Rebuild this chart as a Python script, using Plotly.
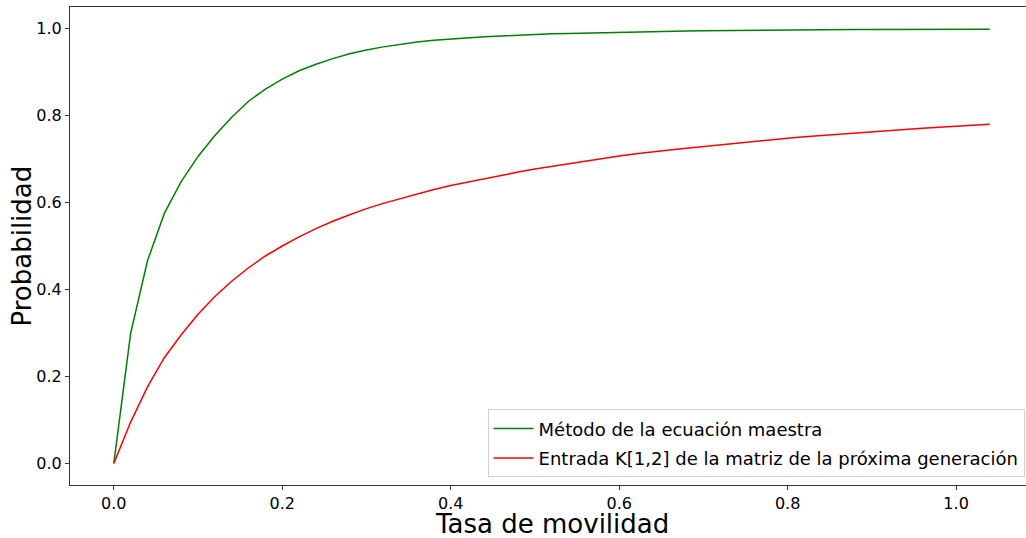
import plotly.graph_objects as go

x_vals = [round(i * 0.02, 2) for i in range(53)]

green_vals = [
    0.000, 0.299, 0.466, 0.575, 0.648, 0.706, 0.754, 0.796, 0.833, 0.861,
    0.884, 0.903, 0.918, 0.931, 0.942, 0.951, 0.958, 0.964, 0.969, 0.973,
    0.976, 0.979, 0.981, 0.983, 0.985, 0.987, 0.988, 0.989, 0.990, 0.991,
    0.992, 0.993, 0.9935, 0.994, 0.9945, 0.995, 0.9955, 0.996, 0.9963, 0.9966,
    0.9969, 0.9972, 0.9974, 0.9976, 0.9978, 0.998, 0.9982, 0.9983, 0.9984, 0.9985,
    0.9986, 0.9987, 0.9988,
]

red_vals = [
    0.000, 0.095, 0.176, 0.243, 0.296, 0.343, 0.384, 0.419, 0.450, 0.477,
    0.500, 0.521, 0.540, 0.557, 0.572, 0.586, 0.598, 0.609, 0.620, 0.630,
    0.639, 0.647, 0.655, 0.662, 0.670, 0.677, 0.683, 0.690, 0.696, 0.702,
    0.707, 0.712, 0.717, 0.721, 0.725, 0.729, 0.733, 0.737, 0.741, 0.744,
    0.748, 0.751, 0.754, 0.757, 0.760, 0.763, 0.766, 0.768, 0.771, 0.773,
    0.776, 0.778, 0.780,
]

x_ticks = [0.0, 0.2, 0.4, 0.6, 0.8, 1.0]
y_ticks = [0.0, 0.2, 0.4, 0.6, 0.8, 1.0]

x_title = "Tasa de movilidad"
y_title = "Probabilidad"

font_family = "DejaVu Sans"

fig = go.Figure()
fig.add_trace(go.Scatter(
    x=x_vals, y=green_vals, mode="lines",
    name="Método de la ecuación maestra", legendgroup="g1",
    line=dict(color="green", width=1.5),
))
fig.add_trace(go.Scatter(
    x=x_vals, y=red_vals, mode="lines",
    name="Entrada K[1,2] de la matriz de la próxima generación", legendgroup="g2",
    line=dict(color="red", width=1.5),
))

fig.update_layout(
    width=1026, height=538,
    margin=dict(l=70, r=0, t=7, b=53, autoexpand=False),
    paper_bgcolor="white", plot_bgcolor="white",
    font=dict(family=font_family, color="black"),
    showlegend=True,
    legend=dict(
        x=0.9985, y=0.016, xanchor="right", yanchor="bottom",
        bgcolor="white", bordercolor="#d0d0d0", borderwidth=1,
        font=dict(size=18, family=font_family),
        tracegroupgap=3, itemwidth=40, traceorder="grouped",
    ),
    xaxis=dict(
        range=[-0.052, 1.083], automargin=False,
        tickvals=x_ticks, ticktext=[f"{v:.1f}" for v in x_ticks],
        showgrid=False, zeroline=False,
        showline=True, linecolor="#333333", linewidth=1, mirror=True,
        ticks="outside", ticklen=4, tickcolor="#333333",
        tickfont=dict(size=16),
    ),
    yaxis=dict(
        range=[-0.0497, 1.0497], automargin=False,
        tickvals=y_ticks, ticktext=[f"{v:.1f}" for v in y_ticks],
        showgrid=False, zeroline=False,
        showline=True, linecolor="#333333", linewidth=1, mirror=False,
        ticks="outside", ticklen=4, tickcolor="#333333",
        tickfont=dict(size=16),
    ),
    annotations=[
        dict(text=x_title, xref="paper", yref="paper", x=0.5037, y=-0.081,
             xanchor="center", yanchor="middle", showarrow=False,
             font=dict(size=26, family=font_family)),
        dict(text=y_title, xref="paper", yref="paper", x=-0.0507, y=0.5,
             xanchor="center", yanchor="middle", textangle=-90, showarrow=False,
             font=dict(size=26, family=font_family)),
    ],
)

fig.write_html(
    "out.html",
    config={"displayModeBar": False},
    post_script="document.body.style.margin='0px';",
)
